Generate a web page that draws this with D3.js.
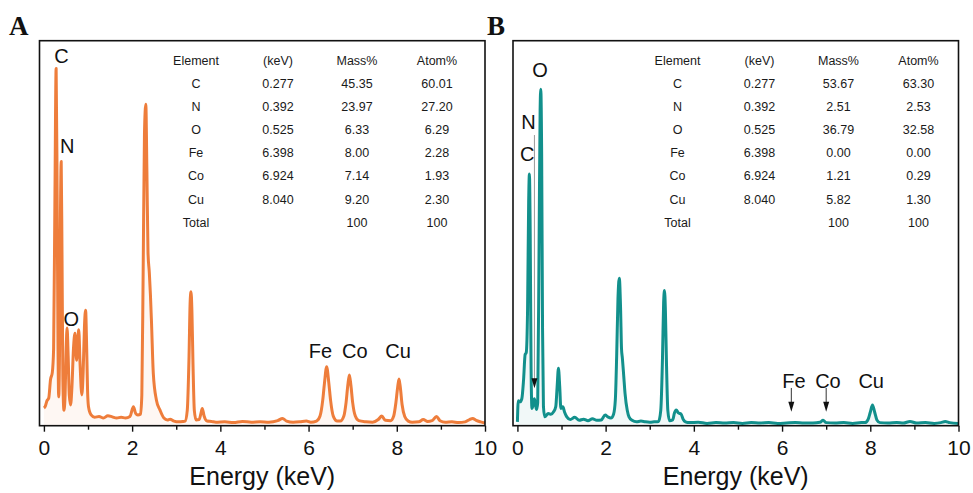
<!DOCTYPE html>
<html>
<head>
<meta charset="utf-8">
<script src="https://cdnjs.cloudflare.com/ajax/libs/d3/7.8.5/d3.min.js"></script>
<style>
  html, body { margin: 0; padding: 0; background: #fff; }
  svg { display: block; }
  text { font-family: "Liberation Sans", Arial, sans-serif; }
</style>
</head>
<body>
<svg id="chart" width="973" height="493"></svg>
<script>
// ---- data ----
var energyTicks = [0, 1, 2, 3, 4, 5, 6, 7, 8, 9, 10];

var tableHeader = ['Element', '(keV)', 'Mass%', 'Atom%'];
var tableElements = ['C', 'N', 'O', 'Fe', 'Co', 'Cu', 'Total'];
var tableEnergy = ['0.277', '0.392', '0.525', '6.398', '6.924', '8.040', ''];

var massA = ['45.35', '23.97', '6.33', '8.00', '7.14', '9.20', '100'];
var atomA = ['60.01', '27.20', '6.29', '2.28', '1.93', '2.30', '100'];
var massB = ['53.67', '2.51', '36.79', '0.00', '1.21', '5.82', '100'];
var atomB = ['63.30', '2.53', '32.58', '0.00', '0.29', '1.30', '100'];

// [energy keV, counts (a.u.)]
var spectrumA = [
  [0.00, 4.6], [0.03, 5.0], [0.07, 6.5], [0.11, 7.2], [0.15, 12.0], [0.19, 13.8],
  [0.22, 20], [0.25, 60], [0.277, 92.8], [0.30, 60], [0.32, 20], [0.335, 7.5],
  [0.355, 20], [0.375, 55], [0.392, 68.6], [0.41, 45], [0.43, 12], [0.455, 4],
  [0.48, 8], [0.505, 20], [0.525, 25.4], [0.55, 18], [0.575, 8], [0.605, 5.4],
  [0.635, 10], [0.67, 20], [0.705, 24.0], [0.74, 17], [0.765, 21], [0.79, 24.9],
  [0.82, 16], [0.86, 8], [0.89, 14], [0.92, 26], [0.945, 30], [0.97, 20],
  [0.99, 9], [1.01, 5], [1.07, 2.8], [1.15, 2.2], [1.25, 2.4], [1.35, 2.0],
  [1.45, 2.6], [1.55, 2.3], [1.65, 2.0], [1.75, 2.2], [1.85, 2.0], [1.95, 2.4],
  [2.03, 4.9], [2.08, 3.2], [2.13, 2.8], [2.19, 3.0], [2.22, 8], [2.25, 40],
  [2.28, 76], [2.31, 83.5], [2.335, 66], [2.36, 45], [2.39, 39.7], [2.415, 34],
  [2.44, 26.6], [2.48, 13.6], [2.55, 6.7], [2.63, 4.1], [2.72, 2.0], [2.8, 1.5],
  [2.86, 1.7], [2.95, 1.2], [3.05, 1.0], [3.15, 1.1], [3.2, 1.2], [3.25, 4],
  [3.29, 18], [3.315, 32], [3.335, 34.8], [3.355, 30], [3.38, 16], [3.41, 4],
  [3.45, 1.5], [3.52, 1.6], [3.56, 3.2], [3.59, 4.5], [3.63, 2.6], [3.7, 1.2],
  [3.8, 1.1], [3.9, 0.9], [4.1, 1.0], [4.3, 0.8], [4.5, 1.1], [4.7, 0.9],
  [4.9, 1.0], [5.1, 0.9], [5.3, 1.3], [5.41, 1.9], [5.5, 1.2], [5.65, 0.9],
  [5.8, 1.0], [5.95, 1.2], [6.05, 0.9], [6.18, 1.2], [6.26, 2.5], [6.32, 6.5],
  [6.36, 11], [6.41, 15.3], [6.46, 11], [6.5, 6.5], [6.56, 2.5], [6.65, 1.2],
  [6.72, 1.2], [6.8, 2.5], [6.85, 6], [6.89, 10.5], [6.925, 13.2], [6.96, 10.5],
  [7.0, 6], [7.06, 2.5], [7.14, 1.3], [7.3, 1.0], [7.45, 0.9], [7.58, 1.6],
  [7.66, 2.5], [7.74, 1.4], [7.86, 1.3], [7.93, 2.5], [7.98, 6], [8.02, 10],
  [8.05, 12.1], [8.08, 10], [8.12, 5.5], [8.18, 2.4], [8.26, 1.2], [8.35, 0.9],
  [8.5, 1.0], [8.6, 1.6], [8.7, 1.1], [8.8, 1.3], [8.9, 2.4], [8.98, 1.3],
  [9.1, 0.9], [9.25, 1.0], [9.4, 0.8], [9.55, 1.0], [9.65, 1.6], [9.72, 1.9],
  [9.8, 1.4], [9.9, 1.0], [10.0, 0.7]
];

var spectrumB = [
  [0.00, 1.0], [0.02, 6.5], [0.06, 6.2], [0.1, 7.0], [0.14, 12], [0.175, 18.5],
  [0.2, 19], [0.23, 30], [0.255, 58], [0.272, 65.4], [0.29, 50], [0.31, 15],
  [0.33, 4.5], [0.36, 5.5], [0.385, 7], [0.41, 5.5], [0.435, 4.2], [0.46, 6],
  [0.49, 45], [0.515, 82], [0.53, 87.4], [0.55, 70], [0.57, 25], [0.59, 5],
  [0.62, 2.3], [0.7, 3.2], [0.76, 3.0], [0.82, 3.6], [0.87, 5], [0.9, 10],
  [0.93, 14.9], [0.96, 10], [0.985, 4.5], [1.03, 4.9], [1.07, 3.5], [1.12, 2.3],
  [1.2, 1.6], [1.3, 2.2], [1.4, 1.4], [1.5, 1.7], [1.6, 1.3], [1.7, 1.8],
  [1.8, 1.4], [1.9, 1.5], [1.99, 2.8], [2.05, 2.3], [2.12, 2.0], [2.18, 3.0],
  [2.22, 6.7], [2.25, 18], [2.28, 33], [2.31, 38.3], [2.34, 30], [2.36, 20],
  [2.38, 17.5], [2.41, 13], [2.44, 8.4], [2.49, 4], [2.53, 2.3], [2.6, 1.4],
  [2.7, 1.0], [2.8, 1.2], [2.9, 1.0], [3.0, 0.9], [3.1, 1.0], [3.2, 1.1],
  [3.25, 4], [3.29, 18], [3.315, 32], [3.335, 35.1], [3.355, 30], [3.38, 16],
  [3.41, 4], [3.45, 1.3], [3.52, 1.5], [3.56, 3.3], [3.6, 4.1], [3.65, 3.3],
  [3.71, 3.0], [3.76, 1.6], [3.81, 1.0], [3.9, 0.8], [4.1, 0.9], [4.3, 0.6],
  [4.5, 0.8], [4.7, 0.7], [4.9, 0.8], [5.1, 0.6], [5.3, 0.8], [5.5, 0.7],
  [5.7, 0.8], [5.9, 0.6], [6.1, 0.7], [6.3, 0.8], [6.5, 0.7], [6.7, 0.7],
  [6.86, 0.9], [6.93, 1.4], [7.0, 0.8], [7.2, 0.7], [7.4, 0.8], [7.6, 0.6],
  [7.8, 0.8], [7.88, 0.8], [7.95, 1.6], [8.0, 3.5], [8.05, 5.4], [8.1, 3.5],
  [8.15, 1.5], [8.22, 0.8], [8.4, 0.7], [8.6, 0.8], [8.75, 0.7], [8.9, 1.1],
  [9.05, 0.7], [9.25, 0.8], [9.45, 0.6], [9.6, 0.8], [9.7, 1.1], [9.8, 0.8],
  [10.0, 0.6]
];

// peak labels: [text, energy, counts at text baseline]
var labelsA = [['C', 0.40, 94.3], ['N', 0.53, 70.9], ['O', 0.62, 25.8],
               ['Fe', 6.27, 17.6], ['Co', 7.05, 17.6], ['Cu', 8.03, 17.6]];
var labelsB = [['O', 0.515, 90.5], ['N', 0.25, 77.1], ['C', 0.22, 68.7],
               ['Fe', 6.27, 9.8], ['Co', 7.04, 9.8], ['Cu', 8.02, 9.8]];

// marker arrows in B: [energy, from counts, to counts]
var arrowsB = [[0.386, 75.5, 9.7], [6.21, 9.8, 3.6], [7.0, 9.8, 3.6]];

;(function (window, document, undefined) {

  'use strict';

  var svg = d3.select('#chart');
  var TOP = 40.7, BOTTOM = 425.7, WIDTH = 445.5;

  var panels = [
    { letter: 'A', left: 39.5, letterX: 9, tableX: 196, color: '#EE7D3B',
      spectrum: spectrumA, mass: massA, atom: atomA, labels: labelsA, arrows: [] },
    { letter: 'B', left: 513, letterX: 487, tableX: 677.5, color: '#12908C',
      spectrum: spectrumB, mass: massB, atom: atomB, labels: labelsB, arrows: arrowsB }
  ];

  var colOffsets = [0, 82, 161, 241];

  function drawPanel(p) {
    var g = svg.append('g');

    var x = d3.scaleLinear().domain([-0.1, 10]).range([p.left, p.left + WIDTH]);
    var y = d3.scaleLinear().domain([0, 100]).range([BOTTOM, TOP]);

    var area = d3.area()
      .x(function (d) { return x(d[0]); })
      .y0(y(0))
      .y1(function (d) { return y(d[1]); })
      .curve(d3.curveMonotoneX);

    var line = d3.line()
      .x(function (d) { return x(d[0]); })
      .y(function (d) { return y(d[1]); })
      .curve(d3.curveMonotoneX);

    g.append('path')
      .datum(p.spectrum)
      .attr('d', area)
      .attr('fill', p.color)
      .attr('fill-opacity', 0.06);

    g.append('path')
      .datum(p.spectrum)
      .attr('d', line)
      .attr('fill', 'none')
      .attr('stroke', p.color)
      .attr('stroke-width', 3)
      .attr('stroke-linejoin', 'round');

    // frame
    g.append('rect')
      .attr('x', p.left)
      .attr('y', TOP)
      .attr('width', WIDTH)
      .attr('height', BOTTOM - TOP)
      .attr('fill', 'none')
      .attr('stroke', '#111')
      .attr('stroke-width', 1.6);

    // x axis
    var axis = d3.axisBottom(x)
      .tickValues(energyTicks)
      .tickSize(6)
      .tickSizeOuter(0)
      .tickPadding(8)
      .tickFormat(function (d) { return d % 2 ? '' : d; });

    var ax = g.append('g')
      .attr('transform', 'translate(0,' + BOTTOM + ')')
      .call(axis);

    ax.select('.domain').remove();
    ax.selectAll('.tick line').attr('stroke', '#111').attr('stroke-width', 1.4);
    ax.selectAll('.tick')
      .filter(function (d) { return d % 2; })
      .select('line').attr('y2', 4);
    ax.selectAll('.tick text')
      .attr('fill', '#111')
      .style('font-size', '21px')
      .style('font-family', '"Liberation Sans", Arial, sans-serif');

    g.append('text')
      .attr('x', p.left + WIDTH / 2)
      .attr('y', 485)
      .attr('text-anchor', 'middle')
      .attr('fill', '#111')
      .style('font-size', '25px')
      .text('Energy (keV)');

    // panel letter
    g.append('text')
      .attr('x', p.letterX)
      .attr('y', 35)
      .attr('fill', '#111')
      .style('font-family', '"Liberation Serif", "Times New Roman", serif')
      .style('font-weight', 'bold')
      .style('font-size', '27px')
      .text(p.letter);

    // composition table
    var rows = [tableHeader].concat(tableElements.map(function (el, i) {
      return [el, tableEnergy[i], p.mass[i], p.atom[i]];
    }));

    rows.forEach(function (row, r) {
      row.forEach(function (cell, c) {
        g.append('text')
          .attr('x', p.tableX + colOffsets[c])
          .attr('y', 65.2 + r * 23.05)
          .attr('text-anchor', 'middle')
          .attr('fill', '#1a1a1a')
          .style('font-size', '12.5px')
          .text(cell);
      });
    });

    // peak labels
    p.labels.forEach(function (l) {
      g.append('text')
        .attr('x', x(l[1]))
        .attr('y', y(l[2]))
        .attr('text-anchor', 'middle')
        .attr('fill', '#111')
        .style('font-size', '20px')
        .text(l[0]);
    });

    // arrows
    p.arrows.forEach(function (a, i) {
      var ax0 = x(a[0]), tip = y(a[2]);
      g.append('line')
        .attr('x1', ax0).attr('x2', ax0)
        .attr('y1', y(a[1])).attr('y2', tip - 8)
        .attr('stroke', i === 0 ? '#999' : '#333')
        .attr('stroke-width', 1);
      g.append('path')
        .attr('d', 'M' + (ax0 - 3) + ',' + (tip - 10) + 'L' + (ax0 + 3) + ',' + (tip - 10) + 'L' + ax0 + ',' + tip + 'Z')
        .attr('fill', '#111');
    });
  }

  panels.forEach(drawPanel);

})(window, document);
</script>
</body>
</html>
